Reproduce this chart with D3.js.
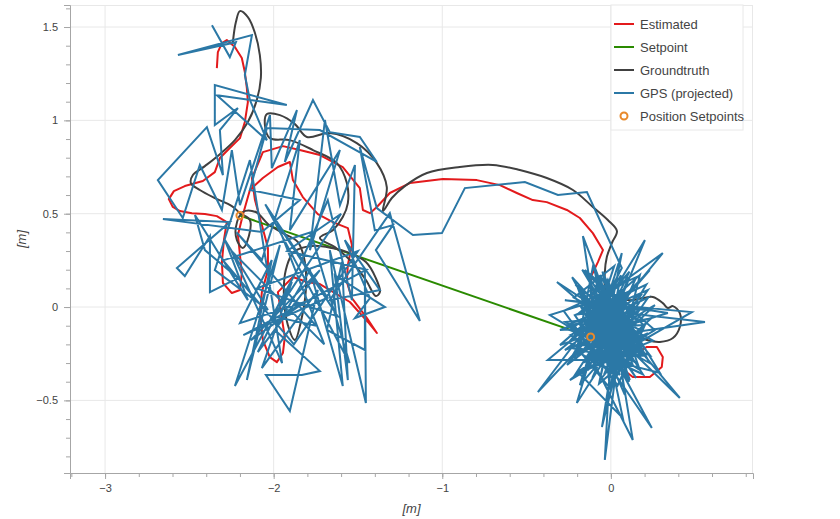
<!DOCTYPE html>
<html>
<head>
<meta charset="utf-8">
<script src="https://cdn.jsdelivr.net/npm/d3@7"></script>
<style>
  body { margin: 0; background: #fff; }
  svg { display: block; }
  text { font-family: "Liberation Sans", Arial, sans-serif; }
</style>
</head>
<body>
<div id="chart"></div>
<script>
// values, in metres
const estimated = [
  [-2.337,1.280],[-2.331,1.366],[-2.307,1.414],[-2.278,1.430],[-2.230,1.393],[-2.189,1.334],[-2.171,1.259],
  [-2.159,1.173],[-2.153,1.098],[-2.171,0.991],[-2.200,0.905],[-2.260,0.852],[-2.319,0.798],[-2.349,0.723],
  [-2.420,0.675],[-2.527,0.648],[-2.592,0.621],[-2.622,0.578],[-2.598,0.536],[-2.556,0.514],[-2.485,0.503],
  [-2.408,0.498],[-2.337,0.487],[-2.278,0.455],[-2.295,0.359],[-2.307,0.241],[-2.301,0.129],[-2.248,0.075],
  [-2.200,0.091],[-2.189,0.182],[-2.200,0.279],[-2.212,0.386],[-2.183,0.493],[-2.141,0.627],[-2.064,0.691],
  [-1.975,0.750],[-1.904,0.777],[-1.886,0.680],[-1.827,0.589],[-1.738,0.498],[-1.649,0.455],[-1.560,0.423],
  [-1.536,0.332],[-1.560,0.225],[-1.566,0.134],[-1.536,0.048],[-1.447,-0.059],[-1.388,-0.139],[-1.441,-0.080],
  [-1.548,0.027],[-1.726,0.123],[-1.803,0.134],[-1.886,0.161],[-1.975,0.080],[-1.957,-0.027],[-1.934,-0.161],
  [-1.945,-0.246],[-1.981,-0.295],[-2.023,-0.268],[-2.064,-0.177],[-2.082,-0.027],[-2.070,0.080],[-2.034,0.198],
  [-2.034,0.316],[-2.070,0.439],[-2.111,0.573],[-2.129,0.691],[-2.064,0.830],[-1.945,0.862],[-1.845,0.841],
  [-1.726,0.814],[-1.590,0.750],[-1.489,0.637],[-1.471,0.520],[-1.429,0.503],[-1.388,0.536],[-1.311,0.611],
  [-1.192,0.664],[-0.996,0.686],[-0.795,0.680],[-0.658,0.653],[-0.558,0.611],[-0.463,0.573],[-0.380,0.562],
  [-0.261,0.520],[-0.184,0.477],[-0.107,0.396],[-0.047,0.305],[-0.077,0.241],[-0.119,0.161],[-0.113,0.037],
  [-0.065,-0.080],[-0.006,-0.187],[0.053,-0.321],[0.130,-0.375],[0.231,-0.375],[0.302,-0.321],[0.308,-0.268],
  [0.273,-0.214],[0.214,-0.214],[0.160,-0.241]
]

const setpoint = [[-2.20,0.49],[-0.12,-0.16]]

const groundtruth = [
  [-2.242,1.419],[-2.224,1.527],[-2.200,1.585],[-2.153,1.553],[-2.111,1.468],[-2.082,1.350],[-2.076,1.227],
  [-2.100,1.109],[-2.153,0.991],[-2.230,0.894],[-2.319,0.819],[-2.408,0.755],[-2.479,0.707],[-2.491,0.664],
  [-2.438,0.627],[-2.349,0.584],[-2.248,0.541],[-2.200,0.503],[-2.141,0.466],[-2.147,0.380],[-2.183,0.316],
  [-2.218,0.359],[-2.224,0.428],[-2.183,0.509],[-2.106,0.509],[-2.034,0.445],[-1.945,0.396],[-1.856,0.348],
  [-1.815,0.241],[-1.809,0.091],[-1.839,-0.080],[-1.874,-0.177],[-1.916,-0.096],[-1.939,0.048],[-1.928,0.198],
  [-1.880,0.295],[-1.773,0.327],[-1.655,0.316],[-1.548,0.289],[-1.453,0.241],[-1.394,0.155],[-1.370,0.080],
  [-1.394,0.059],[-1.453,0.145],[-1.536,0.241],[-1.637,0.321],[-1.726,0.370],[-1.649,0.412],[-1.590,0.482],
  [-1.560,0.557],[-1.566,0.664],[-1.625,0.771],[-1.767,0.841],[-1.904,0.894],[-2.023,0.905],[-2.052,0.975],
  [-2.040,1.034],[-1.963,1.028],[-1.874,0.980],[-1.803,0.911],[-1.667,0.932],[-1.507,0.878],[-1.388,0.771],
  [-1.329,0.643],[-1.352,0.514],[-1.299,0.584],[-1.222,0.648],[-1.091,0.718],[-0.896,0.750],[-0.700,0.761],
  [-0.540,0.734],[-0.380,0.691],[-0.225,0.627],[-0.107,0.536],[-0.018,0.466],[0.036,0.407],[0.006,0.343],
  [-0.024,0.268],[-0.036,0.182],[-0.030,0.091],[0.024,0.054],[0.113,0.037],[0.190,0.048],[0.249,0.054],
  [0.308,0.021],[0.338,-0.005],[0.368,0.005],[0.409,-0.032],[0.409,-0.107],[0.368,-0.166],[0.291,-0.187],
  [0.214,-0.177],[0.142,-0.150],[0.053,-0.123]
]

const gps = [
  [-2.366,1.510],[-2.260,1.339],[-2.224,1.419],[-2.568,1.350],[-2.129,1.457],[-2.171,1.243],[-2.141,1.109],
  [-2.040,0.894],[-2.337,1.135],[-1.922,1.082],[-2.349,1.189],[-2.349,0.975],[-2.212,1.066],[-2.319,0.948],
  [-2.301,0.707],[-2.396,0.964],[-2.687,0.680],[-2.539,0.477],[-2.438,0.761],[-2.307,0.520],[-2.248,0.841],
  [-2.200,0.546],[-2.022,1.028],[-2.011,0.744],[-1.862,1.055],[-1.934,0.777],[-1.767,1.109],[-1.667,0.937],
  [-1.489,0.911],[-1.388,0.777],[-1.726,0.948],[-2.040,0.959],[-2.141,0.627],[-1.845,0.573],[-2.070,0.402],
  [-2.657,0.471],[-2.260,0.455],[-2.574,0.209],[-2.527,0.166],[-2.378,0.380],[-2.378,0.080],[-2.212,0.155],
  [-2.408,0.305],[-2.467,0.493],[-2.153,0.037],[-2.289,0.359],[-2.034,-0.016],[-2.349,0.198],[-2.141,0.787],
  [-1.950,-0.300],[-2.250,0.300],[-1.700,-0.200],[-1.980,0.450],[-1.620,-0.050],[-2.100,0.100],[-1.500,0.300],
  [-1.880,-0.200],[-2.300,0.250],[-1.780,0.400],[-1.550,-0.300],[-2.050,0.550],[-1.680,0.050],[-2.180,-0.150],
  [-1.450,0.200],[-1.920,0.300],[-1.600,0.500],[-2.000,-0.050],[-1.750,-0.100],[-2.220,0.400],
  [-2.070,0.252],[-1.845,0.894],[-1.904,0.412],[-1.607,0.841],[-1.785,0.305],[-1.696,1.002],[-1.607,0.546],
  [-1.518,0.761],[-1.536,0.037],[-1.679,0.573],[-1.845,0.225],[-2.230,-0.423],[-1.963,0.332],[-2.159,-0.391],
  [-2.011,0.252],[-2.200,-0.086],[-1.815,0.027],[-2.135,-0.177],[-1.726,0.198],[-2.094,-0.241],[-1.892,0.134],
  [-2.070,-0.327],[-1.738,0.091],[-1.904,-0.557],[-2.046,-0.364],[-1.833,-0.364],[-1.726,-0.343],[-1.993,-0.123],
  [-1.785,0.198],[-1.590,-0.423],[-1.667,0.305],[-1.453,-0.514],[-1.459,0.198],[-1.459,-0.230],[-1.684,-0.123],
  [-1.595,0.241],[-1.560,-0.391],[-1.637,0.171],[-1.340,0.000],[-1.518,-0.059],[-1.429,0.048],[-1.578,0.359],
  [-1.370,0.091],[-1.667,0.037],[-1.311,0.503],[-1.133,-0.075],[-1.394,0.305],[-1.293,0.439],[-1.400,0.412],
  [-1.489,0.857],[-1.388,0.530],[-1.174,0.386],[-1.002,0.396],[-0.866,0.637],[-0.510,0.670],[-0.314,0.600],
  [-0.142,0.616],
  [0.065,0.209],[-0.125,-0.123],[0.202,0.359],[-0.065,-0.230],[-0.166,0.380],[0.024,-0.070],[-0.320,0.134],
  [0.113,-0.204],[-0.107,0.214],[-0.214,-0.284],[0.308,0.289],[-0.077,0.037],[-0.362,-0.043],[0.172,-0.337],
  [-0.018,0.145],[-0.184,-0.177],[0.558,-0.080],[-0.065,-0.016],[-0.433,-0.455],[0.083,0.037],[-0.036,-0.819],
  [0.006,-0.123],[0.338,-0.032],[-0.154,0.037],[0.172,-0.123],[-0.196,-0.348],[0.071,-0.595],[-0.095,0.118],
  [0.231,-0.257],[-0.243,-0.123],[-0.006,0.037],[0.130,-0.712],[-0.125,-0.257],[0.291,-0.353],[-0.065,0.171],
  [0.053,-0.284],[-0.374,-0.284],[0.125,0.091],[-0.214,-0.043],[0.243,-0.648],[-0.036,-0.177],[0.065,0.289],
  [-0.184,-0.418],[0.202,-0.016],[-0.273,0.037],[0.480,-0.027],[-0.065,-0.311],[0.006,0.118],[-0.202,-0.514],
  [0.113,-0.070],[-0.302,-0.204],[0.172,0.171],[-0.053,-0.643],[0.024,-0.204],[-0.154,0.198],[0.261,-0.123],
  [-0.243,-0.391],[0.083,-0.150],[-0.095,-0.043],[0.409,-0.487],[-0.125,0.091],[0.053,-0.364],[-0.255,-0.096],
  [0.219,0.091],[-0.047,-0.257],[-0.166,-0.070],[0.142,-0.295],[-0.065,0.064],[-0.006,-0.434],[-0.214,-0.204],
  [0.172,-0.204],[-0.113,0.011],[0.101,0.145],[-0.136,-0.337],[0.261,0.011],[-0.083,-0.177],[-0.196,0.102],
  [0.083,-0.471],[0.012,-0.016],[-0.302,-0.123],[0.202,-0.096],[-0.065,-0.391],[0.053,0.091],[-0.154,-0.204],
  [0.231,0.198],[-0.089,-0.096],[-0.036,0.037],[-0.243,-0.284],[0.142,-0.016],[0.024,-0.311],[-0.184,0.011],
  [0.184,-0.257],[-0.101,0.155],[0.083,-0.096],[-0.273,-0.230],[-0.018,-0.059],[0.113,-0.391],[-0.125,0.064],
  [-0.21,0.12],[0.18,-0.28],[-0.05,0.19],[0.09,-0.33],[-0.24,-0.15],[0.22,0.05],[-0.11,-0.38],[0.15,0.16],
  [-0.28,-0.02],[0.04,-0.42],[0.20,-0.10],[-0.17,0.20],[0.12,-0.24],[-0.08,-0.30],[0.25,-0.18],[-0.22,0.05],
  [0.02,0.22],[-0.14,-0.22],[0.19,-0.36],[-0.03,-0.05],[0.10,0.12],[-0.26,-0.31],[0.16,-0.02],[-0.09,0.14],
  [0.07,-0.27],[-0.19,-0.09],[0.23,-0.30],[-0.01,0.10],[-0.16,-0.35],[0.14,0.03],[-0.06,-0.20],[0.11,-0.40],
  [-0.23,0.16],[0.05,-0.12],[0.21,0.12],[-0.12,-0.02],[0.03,-0.35],[-0.20,-0.24],[0.17,-0.16],[-0.04,0.08],
  [0.08,-0.05],[-0.27,-0.08],[0.13,-0.31],[-0.10,0.21],[0.01,-0.25],[0.24,-0.06],[-0.15,-0.13],[0.06,0.17],
  [-0.07,-0.41],[0.18,-0.22],[-0.21,-0.36],[0.09,0.06],[-0.02,-0.16],[0.15,-0.38],[-0.18,0.09],[0.04,-0.02],
  [0.20,-0.26],[-0.13,-0.27],[0.11,0.19],[-0.25,-0.19],[0.00,-0.30],[0.16,-0.07],[-0.08,0.02],[0.07,-0.19],
  [-0.17,-0.30],[0.22,-0.14],[-0.04,-0.36],[0.12,0.00],[-0.20,-0.04],[0.03,0.13],[-0.11,-0.12],[0.19,0.08],
  [-0.06,-0.26],[0.10,-0.29],[-0.23,-0.22],[0.05,-0.08],[-0.14,0.17],[0.14,-0.20],[-0.01,-0.44],[0.08,-0.14],
  [-0.12,-0.18],[0.02,-0.10],
  [0.042,-0.187],[-0.065,-0.123],[0.006,-0.080],[-0.077,-0.027],[-0.119,-0.161],[0.024,-0.123]
]

const positionSetpoints = [[-2.20,0.49],[-0.12,-0.16]]

const xTickValues = [-3, -2, -1, 0]
const yTickValues = [-0.5, 0, 0.5, 1, 1.5]
const legendLabels = ['Estimated', 'Setpoint', 'Groundtruth', 'GPS (projected)', 'Position Setpoints']

const colors = {
  'Estimated': '#e31a1c',
  'Setpoint': '#2a8a00',
  'Groundtruth': '#404040',
  'GPS (projected)': '#2b78a6',
  'Position Setpoints': '#e8892b'
}

const W = 840, H = 519
const margin = { top: 5, right: 87, bottom: 46, left: 70 }
const iw = W - margin.left - margin.right
const ih = H - margin.top - margin.bottom

const svg = d3.select('#chart').append('svg')
  .attr('width', W)
  .attr('height', H)

const x = d3.scaleLinear().domain([-3.208, 0.843]).range([0, iw])
const y = d3.scaleLinear().domain([-0.889, 1.618]).range([ih, 0])

const g = svg.append('g').attr('transform', `translate(${margin.left},${margin.top})`)

// grid
g.append('g').selectAll('line').data(xTickValues).enter().append('line')
  .attr('x1', d => x(d)).attr('x2', d => x(d))
  .attr('y1', 0).attr('y2', ih)
  .attr('stroke', '#e8e8e8').attr('stroke-width', 1)
g.append('g').selectAll('line').data(yTickValues).enter().append('line')
  .attr('x1', 0).attr('x2', iw)
  .attr('y1', d => y(d)).attr('y2', d => y(d))
  .attr('stroke', '#e8e8e8').attr('stroke-width', 1)

// outline top / right
g.append('line').attr('x1', 0).attr('x2', iw).attr('y1', 0.5).attr('y2', 0.5).attr('stroke', '#e8e8e8')
g.append('line').attr('x1', iw - 0.5).attr('x2', iw - 0.5).attr('y1', 0).attr('y2', ih).attr('stroke', '#e8e8e8')

const line = d3.line().x(d => x(d[0])).y(d => y(d[1]))

svg.append('clipPath').attr('id', 'plotclip')
  .append('rect').attr('width', iw).attr('height', ih)
const plot = g.append('g').attr('clip-path', 'url(#plotclip)')

plot.append('path').datum(estimated)
  .attr('d', line).attr('fill', 'none')
  .attr('stroke', colors['Estimated']).attr('stroke-width', 2).attr('stroke-linejoin', 'round')
plot.append('path').datum(setpoint)
  .attr('d', line).attr('fill', 'none')
  .attr('stroke', colors['Setpoint']).attr('stroke-width', 2)
plot.append('path').datum(groundtruth)
  .attr('d', d3.line().x(d => x(d[0])).y(d => y(d[1])).curve(d3.curveCatmullRom))
  .attr('fill', 'none')
  .attr('stroke', colors['Groundtruth']).attr('stroke-width', 2)
plot.append('path').datum(gps)
  .attr('d', line).attr('fill', 'none')
  .attr('stroke', colors['GPS (projected)']).attr('stroke-width', 2).attr('stroke-linejoin', 'miter')
plot.selectAll('circle.sp').data(positionSetpoints).enter().append('circle')
  .attr('class', 'sp')
  .attr('cx', d => x(d[0])).attr('cy', d => y(d[1]))
  .attr('r', 3.5)
  .attr('fill', 'none')
  .attr('stroke', colors['Position Setpoints']).attr('stroke-width', 2)

// axes
const fmt = d3.format('~g')
const xAxis = g.append('g').attr('transform', `translate(0,${ih})`)
  .call(d3.axisBottom(x).tickValues(xTickValues).tickSize(6).tickPadding(5).tickFormat(fmt))
const xMinor = g.append('g').attr('transform', `translate(0,${ih})`)
  .call(d3.axisBottom(x).ticks(20).tickSize(4).tickFormat(''))
const yAxis = g.append('g')
  .call(d3.axisLeft(y).tickValues(yTickValues).tickSize(6).tickPadding(6).tickFormat(fmt))
const yMinor = g.append('g')
  .call(d3.axisLeft(y).ticks(25).tickSize(4).tickFormat(''))

;[xAxis, xMinor, yAxis, yMinor].forEach(a => {
  a.selectAll('.domain').attr('stroke', '#a6a6a6')
  a.selectAll('.tick line').attr('stroke', '#a6a6a6')
  a.selectAll('.tick text').attr('fill', '#444').style('font-size', '11px')
})
xMinor.select('.domain').remove()
yMinor.select('.domain').remove()

// axis labels
svg.append('text')
  .attr('x', margin.left + iw / 2).attr('y', 513)
  .attr('text-anchor', 'middle')
  .style('font-size', '13px').style('font-style', 'italic').attr('fill', '#444')
  .text('[m]')
svg.append('text')
  .attr('transform', `translate(26,${margin.top + ih / 2}) rotate(-90)`)
  .attr('text-anchor', 'middle')
  .style('font-size', '13px').style('font-style', 'italic').attr('fill', '#444')
  .text('[m]')

// legend
const legend = svg.append('g').attr('transform', 'translate(611,5)')
legend.append('rect')
  .attr('width', 132).attr('height', 125)
  .attr('fill', '#fff').attr('fill-opacity', 0.95)
  .attr('stroke', '#e8e8e8')
const items = legend.selectAll('g.item').data(legendLabels).enter().append('g')
  .attr('class', 'item')
  .attr('transform', (d, i) => `translate(0,${19 + i * 23})`)
items.filter(d => d !== 'Position Setpoints').append('line')
  .attr('x1', 3).attr('x2', 23).attr('y1', 0).attr('y2', 0)
  .attr('stroke', d => colors[d]).attr('stroke-width', 2)
items.filter(d => d === 'Position Setpoints').append('circle')
  .attr('cx', 13).attr('cy', 0).attr('r', 3.5)
  .attr('fill', 'none').attr('stroke', d => colors[d]).attr('stroke-width', 2)
items.append('text')
  .attr('x', 29).attr('y', 0).attr('dy', '0.35em')
  .style('font-size', '13px').attr('fill', '#444')
  .text(d => d)
</script>
</body>
</html>
